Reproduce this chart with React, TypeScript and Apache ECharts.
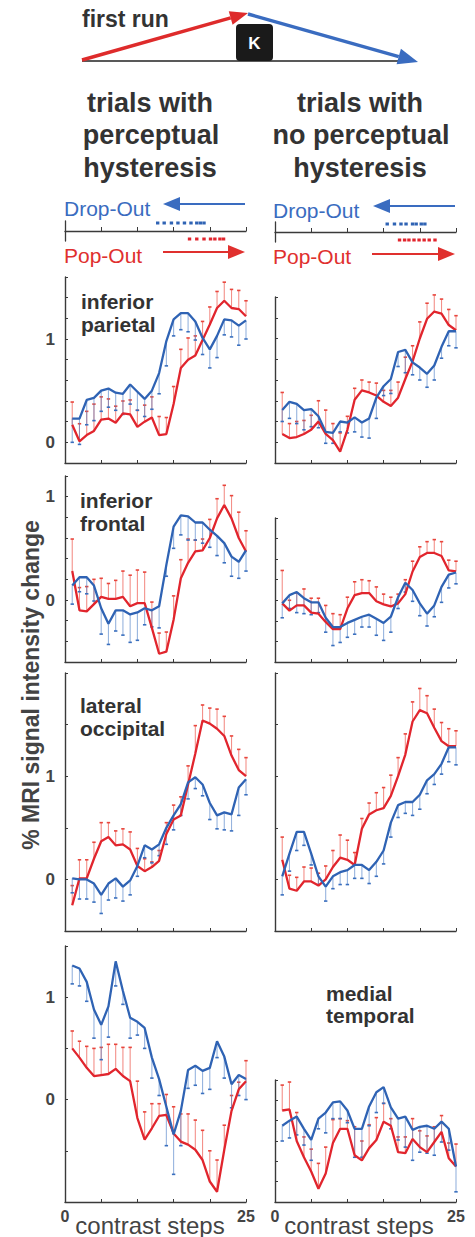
import React, { useEffect, useRef } from "react";
import * as echarts from "echarts";

// ---------- DATA ----------
const steps = [1, 2, 3, 4, 5, 6, 7, 8, 9, 10, 11, 12, 13, 14, 15, 16, 17, 18, 19, 20, 21, 22, 23, 24, 25];

// inferior parietal, with hysteresis
const ipLRed = [0.17, 0.01, 0.07, 0.11, 0.22, 0.23, 0.19, 0.28, 0.27, 0.15, 0.2, 0.24, 0.07, 0.08, 0.37, 0.72, 0.8, 0.84, 0.99, 1.14, 1.3, 1.37, 1.3, 1.29, 1.22];
const ipLRedErr = [0.22, 0.17, 0.23, 0.26, 0.22, 0.19, 0.16, 0.12, 0.14, 0.16, 0.16, 0.2, 0.18, 0.16, 0.17, 0.18, 0.21, 0.19, 0.18, 0.17, 0.16, 0.18, 0.18, 0.18, 0.15];
const ipLBlue = [0.23, 0.23, 0.41, 0.43, 0.5, 0.52, 0.48, 0.47, 0.56, 0.49, 0.42, 0.5, 0.67, 0.98, 1.19, 1.25, 1.25, 1.17, 1.01, 0.9, 1.03, 1.19, 1.18, 1.13, 1.18];
const ipLBlueErr = [0.23, 0.25, 0.24, 0.22, 0.2, 0.18, 0.17, 0.2, 0.19, 0.18, 0.17, 0.18, 0.2, 0.24, 0.16, 0.16, 0.18, 0.18, 0.16, 0.18, 0.21, 0.15, 0.16, 0.19, 0.18];
// inferior parietal, no hysteresis
const ipRRed = [0.08, 0.04, 0.05, 0.08, 0.12, 0.2, 0.08, 0.02, -0.09, 0.12, 0.41, 0.5, 0.48, 0.45, 0.39, 0.35, 0.43, 0.61, 0.78, 1.0, 1.19, 1.26, 1.24, 1.13, 1.08];
const ipRRedErr = [0.4, 0.14, 0.15, 0.13, 0.14, 0.2, 0.23, 0.16, 0.18, 0.13, 0.11, 0.1, 0.1, 0.12, 0.11, 0.15, 0.15, 0.21, 0.15, 0.16, 0.15, 0.16, 0.14, 0.15, 0.14];
const ipRBlue = [0.31, 0.39, 0.37, 0.31, 0.32, 0.25, 0.1, 0.09, 0.2, 0.19, 0.24, 0.19, 0.23, 0.43, 0.54, 0.61, 0.87, 0.89, 0.77, 0.72, 0.66, 0.74, 0.92, 1.07, 1.07];
const ipRBlueErr = [0.11, 0.16, 0.19, 0.19, 0.17, 0.11, 0.11, 0.1, 0.1, 0.1, 0.14, 0.14, 0.19, 0.2, 0.09, 0.14, 0.14, 0.22, 0.12, 0.12, 0.13, 0.14, 0.11, 0.14, 0.16];
// inferior frontal, with hysteresis
const ifLRed = [0.28, -0.1, -0.11, -0.04, 0.03, 0.01, 0.01, 0.03, -0.06, -0.03, -0.03, -0.27, -0.52, -0.5, -0.19, 0.21, 0.36, 0.47, 0.48, 0.6, 0.79, 0.92, 0.79, 0.6, 0.47];
const ifLRedErr = [0.31, 0.22, 0.24, 0.24, 0.18, 0.15, 0.18, 0.25, 0.3, 0.32, 0.3, 0.25, 0.2, 0.19, 0.23, 0.18, 0.23, 0.11, 0.11, 0.18, 0.19, 0.19, 0.22, 0.25, 0.2];
const ifLBlue = [0.14, 0.22, 0.22, 0.14, -0.08, -0.23, -0.1, -0.1, -0.14, -0.12, -0.08, -0.1, -0.06, 0.34, 0.71, 0.82, 0.81, 0.75, 0.75, 0.68, 0.62, 0.55, 0.42, 0.37, 0.48];
const ifLBlueErr = [0.18, 0.14, 0.16, 0.15, 0.25, 0.2, 0.2, 0.24, 0.27, 0.27, 0.16, 0.16, 0.21, 0.11, 0.21, 0.19, 0.23, 0.17, 0.2, 0.17, 0.19, 0.19, 0.19, 0.16, 0.2];
// inferior frontal, no hysteresis
const ifRRed = [-0.03, -0.1, -0.05, -0.05, -0.12, -0.13, -0.21, -0.28, -0.28, -0.08, 0.05, 0.07, 0.07, -0.01, -0.04, -0.06, -0.03, 0.06, 0.28, 0.42, 0.46, 0.46, 0.43, 0.29, 0.28];
const ifRRedErr = [0.32, 0.1, 0.12, 0.16, 0.14, 0.15, 0.16, 0.15, 0.14, 0.11, 0.13, 0.13, 0.12, 0.14, 0.1, 0.09, 0.09, 0.14, 0.1, 0.1, 0.11, 0.13, 0.14, 0.1, 0.1];
const ifRBlue = [-0.03, 0.05, 0.08, 0.02, -0.02, -0.02, -0.17, -0.26, -0.26, -0.22, -0.19, -0.16, -0.14, -0.18, -0.22, -0.16, 0.03, 0.17, 0.1, -0.03, -0.13, -0.05, 0.13, 0.25, 0.27];
const ifRBlueErr = [0.14, 0.13, 0.2, 0.15, 0.12, 0.1, 0.14, 0.18, 0.15, 0.14, 0.14, 0.1, 0.12, 0.16, 0.17, 0.15, 0.11, 0.09, 0.11, 0.12, 0.12, 0.11, 0.15, 0.13, 0.11];
// lateral occipital, with hysteresis
const loLRed = [-0.25, 0.01, 0.01, 0.2, 0.37, 0.41, 0.33, 0.34, 0.29, 0.13, 0.08, 0.12, 0.18, 0.44, 0.58, 0.62, 0.92, 1.22, 1.54, 1.51, 1.46, 1.39, 1.2, 1.06, 1.0];
const loLRedErr = [0.19, 0.18, 0.18, 0.16, 0.18, 0.14, 0.14, 0.15, 0.17, 0.17, 0.12, 0.05, 0.1, 0.11, 0.14, 0.18, 0.18, 0.27, 0.15, 0.15, 0.19, 0.19, 0.19, 0.2, 0.18];
const loLBlue = [0.01, 0.0, 0.0, -0.04, -0.15, -0.04, 0.01, -0.07, -0.01, 0.13, 0.33, 0.29, 0.34, 0.5, 0.62, 0.73, 0.94, 0.99, 0.92, 0.74, 0.62, 0.65, 0.63, 0.89, 0.97];
const loLBlueErr = [0.14, 0.19, 0.19, 0.18, 0.18, 0.16, 0.19, 0.14, 0.14, 0.1, 0.12, 0.13, 0.11, 0.16, 0.14, 0.11, 0.16, 0.11, 0.11, 0.16, 0.13, 0.17, 0.16, 0.27, 0.15];
// lateral occipital, no hysteresis
const loRRed = [0.19, -0.09, -0.11, -0.02, -0.02, -0.06, 0.0, 0.12, 0.21, 0.19, 0.14, 0.49, 0.63, 0.67, 0.69, 0.81, 1.0, 1.21, 1.53, 1.64, 1.61, 1.47, 1.34, 1.29, 1.29];
const loRRedErr = [0.22, 0.13, 0.13, 0.14, 0.13, 0.12, 0.13, 0.16, 0.22, 0.19, 0.12, 0.1, 0.11, 0.17, 0.2, 0.2, 0.18, 0.2, 0.19, 0.21, 0.17, 0.18, 0.18, 0.17, 0.15];
const loRBlue = [0.03, 0.25, 0.46, 0.46, 0.25, 0.03, -0.07, 0.03, 0.07, 0.09, 0.14, 0.14, 0.09, 0.17, 0.28, 0.55, 0.72, 0.75, 0.75, 0.82, 0.96, 1.02, 1.12, 1.28, 1.28];
const loRBlueErr = [0.18, 0.17, 0.18, 0.13, 0.11, 0.08, 0.14, 0.12, 0.12, 0.14, 0.13, 0.13, 0.13, 0.14, 0.13, 0.14, 0.12, 0.11, 0.13, 0.14, 0.13, 0.1, 0.1, 0.14, 0.17];
// medial temporal, with hysteresis
const mtLRed = [0.5, 0.41, 0.31, 0.23, 0.24, 0.25, 0.3, 0.23, 0.18, -0.18, -0.39, -0.28, -0.16, -0.15, -0.33, -0.41, -0.44, -0.49, -0.59, -0.8, -0.9, -0.49, -0.11, 0.1, 0.18];
const mtLRedErr = [0.17, 0.16, 0.21, 0.27, 0.27, 0.29, 0.24, 0.28, 0.33, 0.36, 0.27, 0.24, 0.12, 0.2, 0.26, 0.27, 0.3, 0.29, 0.29, 0.3, 0.31, 0.24, 0.15, 0.07, 0.2];
const mtLBlue = [1.31, 1.28, 1.15, 0.88, 0.73, 0.91, 1.35, 1.06, 0.8, 0.76, 0.7, 0.41, 0.2, -0.07, -0.34, -0.11, 0.29, 0.33, 0.28, 0.31, 0.57, 0.42, 0.15, 0.24, 0.2];
const mtLBlueErr = [0.18, 0.17, 0.19, 0.28, 0.34, 0.3, 0.24, 0.13, 0.2, 0.13, 0.2, 0.2, 0.16, 0.38, 0.39, 0.34, 0.18, 0.19, 0.22, 0.21, 0.16, 0.21, 0.23, 0.2, 0.2];
// medial temporal, no hysteresis
const mtRRed = [-0.1, -0.09, -0.4, -0.56, -0.7, -0.87, -0.72, -0.42, -0.28, -0.28, -0.54, -0.59, -0.47, -0.39, -0.21, -0.25, -0.51, -0.52, -0.38, -0.46, -0.51, -0.41, -0.31, -0.57, -0.65];
const mtRRedErr = [0.25, 0.27, 0.28, 0.2, 0.22, 0.25, 0.26, 0.23, 0.1, 0.08, 0.28, 0.19, 0.23, 0.22, 0.18, 0.07, 0.15, 0.16, 0.2, 0.16, 0.16, 0.15, 0.16, 0.15, 0.22];
const mtRBlue = [-0.25, -0.2, -0.16, -0.28, -0.39, -0.18, -0.12, -0.02, -0.01, -0.1, -0.28, -0.28, -0.06, 0.08, 0.13, -0.07, -0.18, -0.16, -0.29, -0.26, -0.25, -0.28, -0.21, -0.28, -0.65];
const mtRBlueErr = [0.15, 0.17, 0.18, 0.16, 0.2, 0.1, 0.2, 0.16, 0.17, 0.12, 0.28, 0.28, 0.19, 0.2, 0.16, 0.21, 0.21, 0.3, 0.3, 0.25, 0.27, 0.26, 0.2, 0.21, 0.25];

// switch points (drop-out / pop-out) on the contrast scale
const dropOutL = [12.8, 13.7, 14.7, 15.6, 16.5, 17.4, 18.2, 18.7, 19.2];
const popOutL = [17.2, 18.2, 19.2, 20.1, 20.7, 21.4, 21.9];
const dropOutR = [15.5, 16.5, 17.4, 18.1, 19.0, 19.5, 20.2, 20.7];
const popOutR = [17.2, 17.9, 18.5, 19.2, 19.9, 20.6, 21.3, 22.1];

// y-axis ranges per panel [min, max, interval]
const yRanges = [
  [-0.2, 1.6, 0.2], [-0.2, 1.4, 0.2],
  [-0.6, 1.2, 0.2], [-0.6, 0.8, 0.2],
  [-0.5, 2.0, 0.5], [-0.5, 2.0, 0.5],
  [-1.0, 1.5, 0.5], [-1.0, 0.2, 0.2],
];

const panelData = [
  [ipLRed, ipLRedErr, ipLBlue, ipLBlueErr],
  [ipRRed, ipRRedErr, ipRBlue, ipRBlueErr],
  [ifLRed, ifLRedErr, ifLBlue, ifLBlueErr],
  [ifRRed, ifRRedErr, ifRBlue, ifRBlueErr],
  [loLRed, loLRedErr, loLBlue, loLBlueErr],
  [loRRed, loRRedErr, loRBlue, loRBlueErr],
  [mtLRed, mtLRedErr, mtLBlue, mtLBlueErr],
  [mtRRed, mtRRedErr, mtRBlue, mtRBlueErr],
];

// ---------- STYLE / LAYOUT ----------
const FONT = "'Liberation Sans', Arial, Helvetica, sans-serif";
const RED = "#e1252d";
const BLUE = "#2f63b4";
const RED_ERR = "rgba(236,84,74,0.65)";
const BLUE_ERR = "rgba(82,130,200,0.6)";
const RED_CAP = "#e8463d";
const BLUE_CAP = "#3a6fbe";
const AX = "#3a3a3a";
const TXT = "#333333";

const LEFT_X = 65;
const RIGHT_X = 275;
const PW = 181;
// [left, top, height]
const gridBoxes = [
  [LEFT_X, 277, 186], [RIGHT_X, 297, 166],
  [LEFT_X, 476, 186], [RIGHT_X, 518, 144],
  [LEFT_X, 673, 258], [RIGHT_X, 673, 258],
  [LEFT_X, 946, 256], [RIGHT_X, 1080, 122],
];

function arrowHead(sx: number, sy: number, tx: number, ty: number, L: number, W: number) {
  const dx = tx - sx, dy = ty - sy;
  const d = Math.sqrt(dx * dx + dy * dy);
  const ux = dx / d, uy = dy / d;
  const bx = tx - ux * L, by = ty - uy * L;
  const px = -uy, py = ux;
  return {
    base: [bx, by],
    points: [[tx, ty], [bx + px * W, by + py * W], [bx - px * W, by - py * W]],
  };
}

function arrow(sx: number, sy: number, tx: number, ty: number, L: number, W: number, color: string, lw: number) {
  const h = arrowHead(sx, sy, tx, ty, L, W);
  return [
    { type: "line", silent: true, shape: { x1: sx, y1: sy, x2: h.base[0], y2: h.base[1] }, style: { stroke: color, lineWidth: lw } },
    { type: "polygon", silent: true, shape: { points: h.points }, style: { fill: color } },
  ];
}

function txt(x: number, y: number, text: string, size: number, opts: any = {}) {
  return {
    type: "text",
    x, y,
    rotation: opts.rotation || 0,
    silent: true,
    style: {
      text,
      fill: opts.color || TXT,
      fontSize: size,
      fontWeight: opts.weight || "normal",
      fontFamily: FONT,
      align: opts.align || "left",
      verticalAlign: "middle",
    },
  };
}

const errRender = (dir: number, color: string, cap: string) => (params: any, api: any) => {
  const x = api.value(0), y = api.value(1), e = api.value(2);
  const a = api.coord([x, y]);
  const b = api.coord([x, y + dir * e]);
  return {
    type: "group",
    children: [
      { type: "line", shape: { x1: a[0], y1: a[1], x2: b[0], y2: b[1] }, style: { stroke: color, lineWidth: 1.1 } },
      { type: "line", shape: { x1: b[0] - 1.7, y1: b[1], x2: b[0] + 1.7, y2: b[1] }, style: { stroke: cap, lineWidth: 1.6 } },
    ],
  };
};

function buildOption() {
  const grid: any[] = [];
  const xAxis: any[] = [];
  const yAxis: any[] = [];
  const series: any[] = [];

  gridBoxes.forEach((g, k) => {
    const isLeft = k % 2 === 0;
    const isBottom = k >= 6;
    grid.push({ left: g[0], top: g[1], width: PW, height: g[2], containLabel: false });
    xAxis.push({
      gridIndex: k, type: "value", min: 0, max: 25, interval: 5,
      axisLine: { show: true, onZero: false, lineStyle: { color: AX, width: 1.4 } },
      axisTick: { show: true, inside: true, length: 3, lineStyle: { color: AX, width: 1 } },
      axisLabel: {
        show: isBottom, showMinLabel: true, showMaxLabel: true,
        formatter: (v: number) => (v === 0 || v === 25 ? String(v) : ""),
        fontSize: 16, fontWeight: "bold", color: "#444", fontFamily: FONT, margin: 6,
      },
      splitLine: { show: false },
    });
    const r = yRanges[k];
    yAxis.push({
      gridIndex: k, type: "value", min: r[0], max: r[1], interval: r[2],
      axisLine: { show: true, onZero: false, lineStyle: { color: AX, width: 1.4 } },
      axisTick: { show: true, inside: true, length: 3, lineStyle: { color: AX, width: 1 } },
      axisLabel: {
        show: isLeft,
        formatter: (v: number) => (Math.abs(v - 1) < 1e-6 ? "1" : Math.abs(v) < 1e-6 ? "0" : ""),
        fontSize: 17, fontWeight: "bold", color: "#444", fontFamily: FONT, margin: 10,
      },
      splitLine: { show: false },
    });
    const [red, redErr, blue, blueErr] = panelData[k];
    series.push({
      type: "custom", xAxisIndex: k, yAxisIndex: k, z: 1, silent: true, clip: false,
      encode: { x: 0, y: 1 },
      data: steps.map((s, i) => [s, red[i], redErr[i]]),
      renderItem: errRender(1, RED_ERR, RED_CAP),
    });
    series.push({
      type: "custom", xAxisIndex: k, yAxisIndex: k, z: 1, silent: true, clip: false,
      encode: { x: 0, y: 1 },
      data: steps.map((s, i) => [s, blue[i], blueErr[i]]),
      renderItem: errRender(-1, BLUE_ERR, BLUE_CAP),
    });
    series.push({
      type: "line", xAxisIndex: k, yAxisIndex: k, z: 3, symbol: "none", silent: true,
      data: steps.map((s, i) => [s, red[i]]),
      lineStyle: { color: RED, width: 2.3 },
    });
    series.push({
      type: "line", xAxisIndex: k, yAxisIndex: k, z: 3, symbol: "none", silent: true,
      data: steps.map((s, i) => [s, blue[i]]),
      lineStyle: { color: BLUE, width: 2.3 },
    });
  });

  // mini switch-point axes
  const miniTops = [221, 222];
  const miniLefts = [LEFT_X, RIGHT_X];
  const miniDrop = [dropOutL, dropOutR];
  const miniPop = [popOutL, popOutR];
  [0, 1].forEach((m) => {
    const k = 8 + m;
    grid.push({ left: miniLefts[m], top: miniTops[m], width: PW, height: 20 });
    xAxis.push({
      gridIndex: k, type: "value", min: 0, max: 25, interval: 5,
      axisLine: { show: true, onZero: true, lineStyle: { color: AX, width: 1.3 } },
      axisTick: { show: true, inside: true, length: 4, lineStyle: { color: AX, width: 1 } },
      axisLabel: { show: false }, splitLine: { show: false },
    });
    yAxis.push({
      gridIndex: k, type: "value", min: -1, max: 1,
      axisLine: { show: true, onZero: false, lineStyle: { color: AX, width: 1.3 } },
      axisTick: { show: false }, axisLabel: { show: false }, splitLine: { show: false },
    });
    series.push({
      type: "scatter", xAxisIndex: k, yAxisIndex: k, silent: true,
      symbol: "rect", symbolSize: [3.4, 3], itemStyle: { color: BLUE, opacity: 1 },
      data: miniDrop[m].map((v) => [v, 0.8]),
    });
    series.push({
      type: "scatter", xAxisIndex: k, yAxisIndex: k, silent: true,
      symbol: "rect", symbolSize: [3.4, 3], itemStyle: { color: RED, opacity: 1 },
      data: miniPop[m].map((v) => [v, -0.8]),
    });
  });

  const graphic: any[] = [
    txt(82, 19, "first run", 23, { weight: "bold" }),
    { type: "line", silent: true, shape: { x1: 82, y1: 61, x2: 415, y2: 61 }, style: { stroke: "#222", lineWidth: 1.6 } },
    ...arrow(82, 60, 248, 13, 18, 7, "#de2b2b", 3.4),
    ...arrow(248, 14, 418, 62, 20, 8, "#3a6cc0", 3.4),
    { type: "rect", silent: true, shape: { x: 236, y: 24, width: 37, height: 37, r: 4 }, style: { fill: "#1a1a1a" } },
    txt(254.5, 43, "K", 17, { weight: "bold", align: "center", color: "#fff" }),

    txt(150, 103, "trials with", 27, { weight: "bold", align: "center" }),
    txt(151, 135, "perceptual", 27, { weight: "bold", align: "center" }),
    txt(150, 168, "hysteresis", 27, { weight: "bold", align: "center" }),
    txt(360, 103, "trials with", 27, { weight: "bold", align: "center" }),
    txt(361, 135, "no perceptual", 27, { weight: "bold", align: "center" }),
    txt(360, 168, "hysteresis", 27, { weight: "bold", align: "center" }),

    txt(64, 208, "Drop-Out", 21, { color: "#3a6cc0" }),
    txt(64, 255, "Pop-Out", 21, { color: "#e0302e" }),
    txt(273, 210, "Drop-Out", 21, { color: "#3a6cc0" }),
    txt(273, 256, "Pop-Out", 21, { color: "#e0302e" }),
    ...arrow(245, 204, 163, 204, 17, 7, "#3a6cc0", 1.8),
    ...arrow(163, 252, 245, 252, 17, 7, "#e0302e", 1.8),
    ...arrow(455, 206, 373, 206, 17, 7, "#3a6cc0", 1.8),
    ...arrow(372, 254, 455, 254, 17, 7, "#e0302e", 1.8),

    txt(81, 301, "inferior", 21, { weight: "bold" }),
    txt(81, 324, "parietal", 21, { weight: "bold" }),
    txt(80, 500, "inferior", 21, { weight: "bold" }),
    txt(80, 523, "frontal", 21, { weight: "bold" }),
    txt(80, 705, "lateral", 21, { weight: "bold" }),
    txt(80, 728, "occipital", 21, { weight: "bold" }),
    txt(326, 993, "medial", 21, { weight: "bold" }),
    txt(326, 1015, "temporal", 21, { weight: "bold" }),

    txt(31, 685, "% MRI signal intensity change", 23, { weight: "bold", align: "center", rotation: Math.PI / 2, color: "#444" }),
    txt(150, 1225, "contrast steps", 24, { align: "center", color: "#444" }),
    txt(359, 1225, "contrast steps", 24, { align: "center", color: "#444" }),
  ];

  return {
    animation: false,
    backgroundColor: "#ffffff",
    grid, xAxis, yAxis, series, graphic,
  };
}

export default function App() {
  const ref = useRef<HTMLDivElement>(null);
  useEffect(() => {
    document.body.style.margin = "0";
    const chart = echarts.init(ref.current as HTMLDivElement, undefined, { renderer: "svg" });
    chart.setOption(buildOption() as any);
    return () => chart.dispose();
  }, []);
  return <div ref={ref} style={{ position: "absolute", left: 0, top: 0, width: 475, height: 1237 }} />;
}
